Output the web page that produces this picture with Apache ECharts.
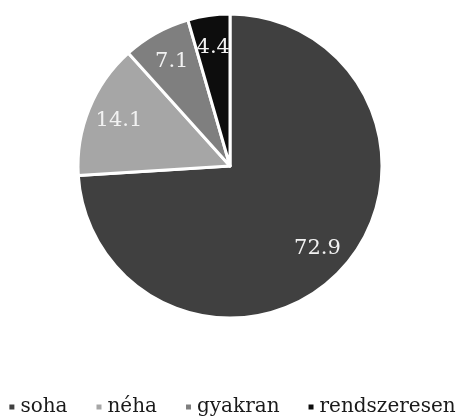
<!DOCTYPE html>
<html>
<head>
<meta charset="UTF-8">
<title>pie</title>
<script src="https://cdn.jsdelivr.net/npm/echarts@6/dist/echarts.min.js"></script>
<style>
* { margin: 0; padding: 0; }
body { background: #fff; }
</style>
</head>
<body>
<div id="main" style="width: 463px; height: 417px;"></div>
<script>
var categories = ['soha', 'néha', 'gyakran', 'rendszeresen'];
var values = [72.9, 14.1, 7.1, 4.4];
var colors = ['#404040', '#a6a6a6', '#7f7f7f', '#0d0d0d'];

var pieData = [];
var labelData = [];
for (var i = 0; i < categories.length; i++) {
	pieData.push({ name: categories[i], value: values[i], itemStyle: { color: colors[i] } });
	labelData.push({ name: categories[i], value: values[i] });
}

var myChart = echarts.init(document.getElementById('main'));
var option = {
	backgroundColor: '#fff',
	animation: false,
	legend: {
		top: 392,
		left: 'center',
		icon: 'rect',
		itemWidth: 7,
		itemHeight: 7,
		itemGap: 27,
		textStyle: {
			fontFamily: 'DejaVu Serif',
			fontSize: 20,
			color: '#1a1a1a'
		},
		data: categories
	},
	series: [{
		name: 'main',
		type: 'pie',
		center: [230, 166],
		radius: [0, 152],
		startAngle: 90,
		clockwise: true,
		itemStyle: { borderColor: '#fff', borderWidth: 3 },
		label: { show: false },
		labelLine: { show: false },
		data: pieData
	}, {
		// only carries the labels, further out than the default inside position
		name: 'labels',
		type: 'pie',
		center: [230, 166],
		radius: [82, 152],
		startAngle: 90,
		clockwise: true,
		silent: true,
		itemStyle: { color: 'rgba(0,0,0,0)' },
		label: {
			show: true,
			position: 'inside',
			formatter: '{c}',
			fontFamily: 'DejaVu Serif',
			fontSize: 21,
			color: '#f2f2f2'
		},
		labelLine: { show: false },
		data: labelData
	}]
};
myChart.setOption(option);
</script>
</body>
</html>
